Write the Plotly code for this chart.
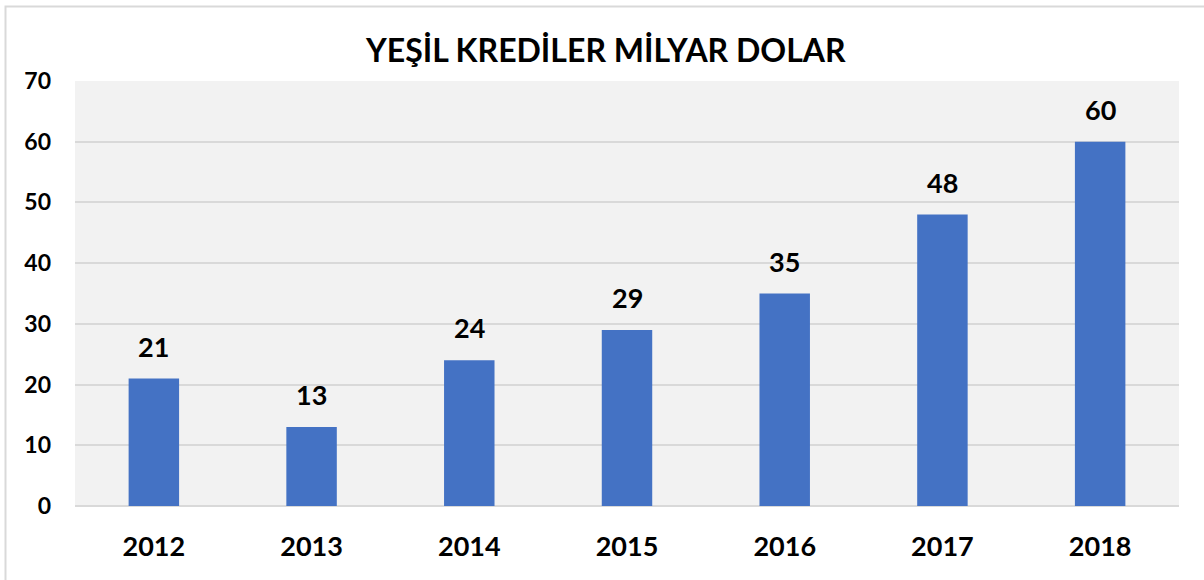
import plotly.graph_objects as go

years = ["2012", "2013", "2014", "2015", "2016", "2017", "2018"]
values = [21, 13, 24, 29, 35, 48, 60]
title_text = "YEŞİL KREDİLER MİLYAR DOLAR"
y_ticks = [0, 10, 20, 30, 40, 50, 60, 70]

FONT = "Lato"
BAR_COLOR = "#4472C4"

fig = go.Figure()
fig.add_trace(go.Bar(
    x=years, y=values,
    marker=dict(color=BAR_COLOR, line=dict(width=0)),
    width=0.32,
    hoverinfo="x+y",
))

# value labels placed on the category axis by index
annotations = [
    dict(x=i, y=v, xref="x", yref="y", text=str(v), showarrow=False,
         yanchor="bottom", yshift=14,
         font=dict(family=FONT, size=27, color="#000000", weight="bold"))
    for i, v in enumerate(values)
]

L, R, T, B = 75, 25, 81, 74
W, H = 1204, 580
pw, ph = W - L - R, H - T - B

def px_to_paper_x(px):
    return (px - L) / pw

def px_to_paper_y(py):
    return (H - B - py) / ph

annotations.append(dict(
    x=px_to_paper_x(605), y=px_to_paper_y(49), xref="paper", yref="paper",
    text=f"<b>{title_text}</b>",
    showarrow=False, xanchor="center", yanchor="middle",
    font=dict(family=FONT, size=32, color="#000000")))

fig.update_layout(
    width=W, height=H,
    margin=dict(l=L, r=R, t=T, b=B, pad=0, autoexpand=False),
    paper_bgcolor="#ffffff",
    plot_bgcolor="#f2f2f2",
    showlegend=False,
    annotations=annotations,
    shapes=[dict(type="rect", xref="paper", yref="paper",
                 x0=px_to_paper_x(5.5), x1=px_to_paper_x(1215),
                 y0=px_to_paper_y(595), y1=px_to_paper_y(6.5),
                 line=dict(color="#d9d9d9", width=2), fillcolor="rgba(0,0,0,0)",
                 layer="below")],
    xaxis=dict(
        type="category", automargin=False,
        categoryorder="array", categoryarray=years,
        range=[-0.5, len(years) - 0.5],
        showgrid=False, zeroline=False, showline=False,
        tickfont=dict(family=FONT, size=27, color="#000000", weight="bold"),
        ticks="", ticklabelstandoff=22,
    ),
    yaxis=dict(
        automargin=False,
        range=[0, 70], tickvals=y_ticks,
        showgrid=True, gridcolor="#d9d9d9", gridwidth=2,
        zeroline=True, zerolinecolor="#d9d9d9", zerolinewidth=2,
        showline=False, ticks="",
        tickfont=dict(family=FONT, size=23, color="#000000", weight="bold"),
        ticklabelstandoff=23,
    ),
)

fig.write_html(
    "out.html",
    config={"displayModeBar": False},
    post_script="document.body.style.margin='0px';document.body.style.overflow='hidden';",
)
